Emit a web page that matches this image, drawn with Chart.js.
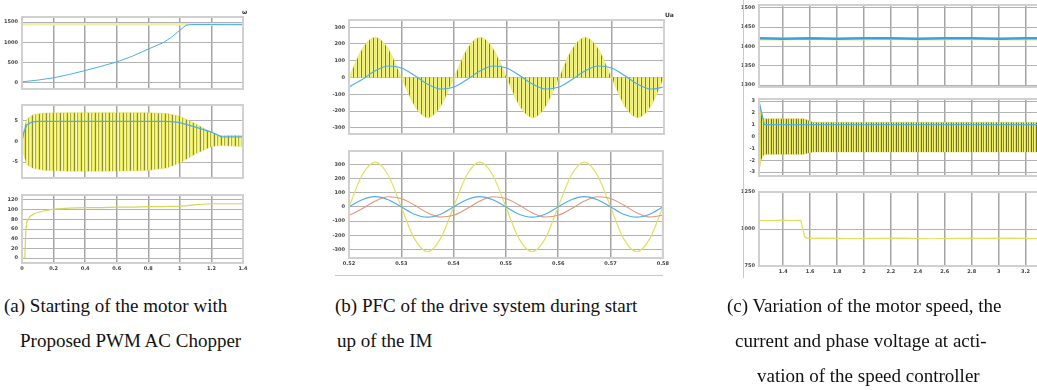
<!DOCTYPE html>
<html>
<head>
<meta charset="utf-8">
<script src="https://cdn.jsdelivr.net/npm/chart.js@4.4.0/dist/chart.umd.min.js"></script>
<style>
  body { margin: 0; width: 1037px; height: 390px; background: #fff; position: relative; overflow: hidden; font-family: 'Liberation Serif', 'Times New Roman', serif; }
  canvas { position: absolute; }
  .cap { position: absolute; font-size: 19px; line-height: 20px; white-space: nowrap; color: #111; }
  .unit { position: absolute; font: bold 6px 'DejaVu Sans', sans-serif; color: #333; }
  .rule { position: absolute; background: #c8c8c8; }
</style>
</head>
<body>
<canvas id="a1"></canvas>
<canvas id="a2"></canvas>
<canvas id="a3"></canvas>
<canvas id="b1"></canvas>
<canvas id="b2"></canvas>
<canvas id="c1"></canvas>
<canvas id="c2"></canvas>
<canvas id="c3"></canvas>

<div class="unit" style="left:242px;top:8px">ω</div>
<div class="unit" style="left:665px;top:11px">Ua</div>
<div class="rule" style="left:743px;top:0;width:1px;height:278px"></div>
<div class="rule" style="left:335px;top:275px;width:328px;height:1px"></div>

<div class="cap" style="left:4px;top:296px">(a) Starting of the motor with</div>
<div class="cap" style="left:20px;top:331px">Proposed PWM AC Chopper</div>
<div class="cap" style="left:335px;top:296px">(b) PFC of the drive system during start</div>
<div class="cap" style="left:337px;top:331px">up of the IM</div>
<div class="cap" style="left:727px;top:296px">(c) Variation of the motor speed, the</div>
<div class="cap" style="left:735px;top:331px">current and phase voltage at acti-</div>
<div class="cap" style="left:757px;top:366px">vation of the speed controller</div>

<script>
// ---------- (a) starting of the motor ----------
const xTicksA = [0, 0.2, 0.4, 0.6, 0.8, 1, 1.2, 1.4];
const yTicksA1 = [0, 500, 1000, 1500];
const yTicksA2 = [-5, 0, 5];
const yTicksA3 = [0, 20, 40, 60, 80, 100, 120];

// speed (blue) and reference (yellow)
const tSpeedA = [0, 0.1, 0.2, 0.3, 0.4, 0.5, 0.6, 0.7, 0.8, 0.9, 0.95, 1.0, 1.04, 1.07, 1.2, 1.3, 1.4];
const speedA  = [16, 58, 116, 200, 295, 400, 510, 655, 830, 1000, 1135, 1300, 1425, 1440, 1440, 1438, 1440];
const tRefA = [0, 1.4];
const refA  = [1448, 1448];

// chopped current envelope + rms
const tCurA   = [0, 0.01, 0.03, 0.07, 0.14, 0.3, 0.5, 0.7, 0.8, 0.92, 1.0, 1.1, 1.2, 1.26, 1.33, 1.4];
const curUpA  = [0, 2.7, 5.4, 6.5, 6.9, 7.0, 7.0, 7.0, 7.0, 6.8, 6.1, 4.3, 2.2, 1.4, 1.5, 1.5];
const curLoA  = [0, -3.0, -5.6, -6.5, -7.0, -7.2, -7.2, -7.1, -7.0, -6.4, -5.2, -3.0, -1.2, -1.0, -1.1, -1.2];
const tRmsA = [0, 0.01, 0.03, 0.06, 0.1, 0.5, 0.9, 0.95, 1.0, 1.1, 1.2, 1.26, 1.3, 1.4];
const rmsA  = [0, 2.0, 4.0, 4.7, 4.9, 4.9, 4.9, 4.8, 4.6, 3.5, 2.3, 1.2, 1.1, 1.1];

// bottom trace
const tTorqA = [0, 0.018, 0.022, 0.026, 0.03, 0.05, 0.08, 0.12, 0.2, 0.3, 0.4, 0.5, 0.6, 0.7, 0.8, 0.9, 1.0, 1.05, 1.1, 1.15, 1.2, 1.3, 1.4];
const torqA  = [0, 0, 40, 65, 75, 86, 92, 96, 101, 103, 104, 104, 105, 105, 106, 106, 107, 108, 110, 111, 112, 112, 112];

// ---------- (b) PFC ----------
const xTicksB = [0.52, 0.53, 0.54, 0.55, 0.56, 0.57, 0.58];
const yTicksB = [-300, -200, -100, 0, 100, 200, 300];
const tB = [0.52, 0.5225, 0.525, 0.5275, 0.53, 0.5325, 0.535, 0.5375, 0.54, 0.5425, 0.545, 0.5475, 0.55,
            0.5525, 0.555, 0.5575, 0.56, 0.5625, 0.565, 0.5675, 0.57, 0.5725, 0.575, 0.5775, 0.58];
const envB  = [0, 170, 240, 170, 0, -170, -240, -170, 0, 170, 240, 170, 0, -170, -240, -170, 0, 170, 240, 170, 0, -170, -240, -170, 0];
const iLineB = [-57, -12, 40, 69, 57, 12, -40, -69, -57, -12, 40, 69, 57, 12, -40, -69, -57, -12, 40, 69, 57, 12, -40, -69, -57];
const voltB = [0, 223, 315, 223, 0, -223, -315, -223, 0, 223, 315, 223, 0, -223, -315, -223, 0, 223, 315, 223, 0, -223, -315, -223, 0];
const iBlueB = [0, 51, 72, 51, 0, -51, -72, -51, 0, 51, 72, 51, 0, -51, -72, -51, 0, 51, 72, 51, 0, -51, -72, -51, 0];
const iRedB  = [-59, -13, 41, 71, 59, 13, -41, -71, -59, -13, 41, 71, 59, 13, -41, -71, -59, -13, 41, 71, 59, 13, -41, -71, -59];

// ---------- (c) speed controller ----------
const xTicksC = [1.4, 1.6, 1.8, 2, 2.2, 2.4, 2.6, 2.8, 3, 3.2];
const yTicksC1 = [1300, 1350, 1400, 1450, 1500];
const yTicksC2 = [-3, -2, -1, 0, 1, 2, 3];
const yTicksC3 = [750, 1000, 1250];

const tSpdC = [1.22, 1.4, 1.6, 1.8, 2.0, 2.2, 2.4, 2.6, 2.8, 3.0, 3.2, 3.3];
const spdC  = [1421, 1420, 1421, 1420, 1421, 1421, 1420, 1421, 1421, 1420, 1421, 1421];
const refC  = [1417, 1417, 1418, 1417, 1417, 1418, 1417, 1417, 1418, 1417, 1417, 1417];

const tCurC  = [1.22, 1.225, 1.235, 1.245, 1.26, 1.4, 1.55, 1.58, 1.62, 2.0, 2.5, 3.0, 3.3];
const curUpC = [3.0, 3.0, 2.2, 1.6, 1.5, 1.5, 1.5, 1.4, 1.2, 1.2, 1.2, 1.2, 1.2];
const curLoC = [-1.0, -2.6, -2.0, -1.7, -1.5, -1.5, -1.5, -1.4, -1.3, -1.3, -1.3, -1.3, -1.3];
const tRmsC = [1.22, 1.225, 1.25, 1.26, 3.3];
const rmsC  = [3.0, 3.0, 1.5, 1.0, 1.0];

const tVolC = [1.22, 1.3, 1.4, 1.45, 1.5, 1.53, 1.545, 1.56, 1.58, 1.7, 1.9, 2.1, 2.3, 2.5, 2.7, 2.9, 3.1, 3.3];
const volC  = [1058, 1056, 1060, 1057, 1059, 1058, 1000, 945, 937, 939, 935, 937, 938, 934, 937, 936, 938, 935];

// ---------------------------------------------------------------
const BLUE = '#4eaee6';
const YEL = '#e0e062';
const RED = '#e3957a';
const tickFont = { family: 'DejaVu Sans', size: 5, weight: 'bold' };

function pts(xs, ys) {
  return xs.map((x, i) => ({ x: x, y: ys[i] }));
}
function line(xs, ys, color, w, extra) {
  return Object.assign({ data: pts(xs, ys), borderColor: color, borderWidth: w, fill: false, pointRadius: 0 }, extra || {});
}
// vertical stripes to mimic the dense PWM switching
function stripes(cols) {
  const c = document.createElement('canvas');
  c.width = cols.length; c.height = 1;
  const g = c.getContext('2d');
  cols.forEach((col, i) => { g.fillStyle = col; g.fillRect(i, 0, 1, 1); });
  return g.createPattern(c, 'repeat');
}
const fmt = v => String(Math.round(v * 100) / 100);

// light frame round the plot area
const framePlugin = {
  id: 'frame',
  afterDatasetsDraw(chart) {
    const a = chart.chartArea, g = chart.ctx;
    g.save();
    g.strokeStyle = '#d0d0d0';
    g.lineWidth = 2;
    g.strokeRect(a.left, a.top, a.right - a.left, a.bottom - a.top);
    g.restore();
  }
};

// box = plot frame [left, top, right, bottom] on the page
function makeChart(id, box, xr, yr, xTicks, yTicks, showX, datasets) {
  const yw = 27, pt = 5, pr = 8;
  const xh = showX ? 12 : 0, pb = showX ? 0 : 4;
  const cv = document.getElementById(id);
  cv.width = box[2] - box[0] + yw + pr;
  cv.height = box[3] - box[1] + pt + xh + pb;
  cv.style.left = (box[0] - yw) + 'px';
  cv.style.top = (box[1] - pt) + 'px';
  return new Chart(cv, {
    type: 'line',
    data: { datasets: datasets },
    options: {
      responsive: false,
      animation: false,
      events: [],
      layout: { padding: { left: 0, top: pt, right: pr, bottom: pb } },
      plugins: { legend: { display: false }, tooltip: { enabled: false } },
      scales: {
        x: {
          type: 'linear', min: xr[0], max: xr[1],
          afterBuildTicks: s => { s.ticks = xTicks.map(v => ({ value: v })); },
          afterFit: s => { s.height = xh; },
          grid: { color: '#a4a4a4', lineWidth: 1.5, drawTicks: false },
          border: { display: false },
          ticks: { display: showX, padding: 3, font: tickFont, color: '#444', maxRotation: 0, autoSkip: false, callback: fmt }
        },
        y: {
          min: yr[0], max: yr[1],
          afterBuildTicks: s => { s.ticks = yTicks.map(v => ({ value: v })); },
          afterFit: s => { s.width = yw; },
          grid: { color: '#b2b2b2', lineWidth: 1, drawTicks: false },
          border: { display: false },
          ticks: { padding: 4, font: tickFont, color: '#444', autoSkip: false, callback: fmt }
        }
      }
    },
    plugins: [framePlugin]
  });
}

// lighter, mostly-yellow stripes with olive switching edges
const pwmA = stripes(['#f4f48a', '#e4e45e', '#8e8e26', '#f2f27a', '#fafab8', '#b0b03a', '#eeee70']);
const pwmB = stripes(['#f4f47c', '#ecec66', '#f6f690', '#7e7e22']);
const pwmC = stripes(['#eeee6c', '#8a8a22', '#f2f27e', '#e0e058', '#6e6e16']);

// (a)
makeChart('a1', [22, 15, 243, 92], [0, 1.4], [-163, 1628], xTicksA, yTicksA1, false, [
  line(tSpeedA, speedA, BLUE, 1),
  line(tRefA, refA, '#efefa8', 2.5)
]);
makeChart('a2', [22, 103, 243, 181], [0, 1.4], [-8.86, 8.86], xTicksA, yTicksA2, false, [
  line(tRmsA, rmsA, BLUE, 1.3),
  line(tCurA, curUpA, '#d8d858', 0.5, { fill: '+1', backgroundColor: pwmA }),
  line(tCurA, curLoA, '#d8d858', 0.5)
]);
makeChart('a3', [22, 193, 243, 263], [0, 1.4], [-10, 130], xTicksA, yTicksA3, true, [
  line(tTorqA, torqA, '#d6d65a', 1.2)
]);

// (b)
makeChart('b1', [349, 18, 664, 137], [0.52, 0.58], [-337, 343], xTicksB, yTicksB, false, [
  line(tB, iLineB, BLUE, 1.1, { cubicInterpolationMode: 'monotone' }),
  line(tB, envB, '#e8e866', 0.6, { fill: 'origin', backgroundColor: pwmB, cubicInterpolationMode: 'monotone' })
]);
makeChart('b2', [349, 149, 664, 258], [0.52, 0.58], [-359, 393], xTicksB, yTicksB, true, [
  line(tB, iBlueB, BLUE, 1.1, { cubicInterpolationMode: 'monotone' }),
  line(tB, iRedB, RED, 1.1, { cubicInterpolationMode: 'monotone' }),
  line(tB, voltB, YEL, 1.2, { cubicInterpolationMode: 'monotone' })
]);

// (c)
makeChart('c1', [759, 3, 1039, 90], [1.22, 3.3], [1295, 1507], xTicksC, yTicksC1, false, [
  line(tSpdC, spdC, '#3aa0e4', 2.5),
  line(tSpdC, refC, '#e6e680', 1.2)
]);
makeChart('c2', [759, 97, 1039, 179], [1.22, 3.3], [-3.33, 3.17], xTicksC, yTicksC2, false, [
  line(tRmsC, rmsC, BLUE, 1.2),
  line(tCurC, curUpC, '#cfcf50', 0.5, { fill: '+1', backgroundColor: pwmC }),
  line(tCurC, curLoC, '#cfcf50', 0.5)
]);
makeChart('c3', [759, 190, 1039, 266], [1.22, 3.3], [750, 1250], xTicksC, yTicksC3, true, [
  line(tVolC, volC, YEL, 1.2)
]);
</script>
</body>
</html>
